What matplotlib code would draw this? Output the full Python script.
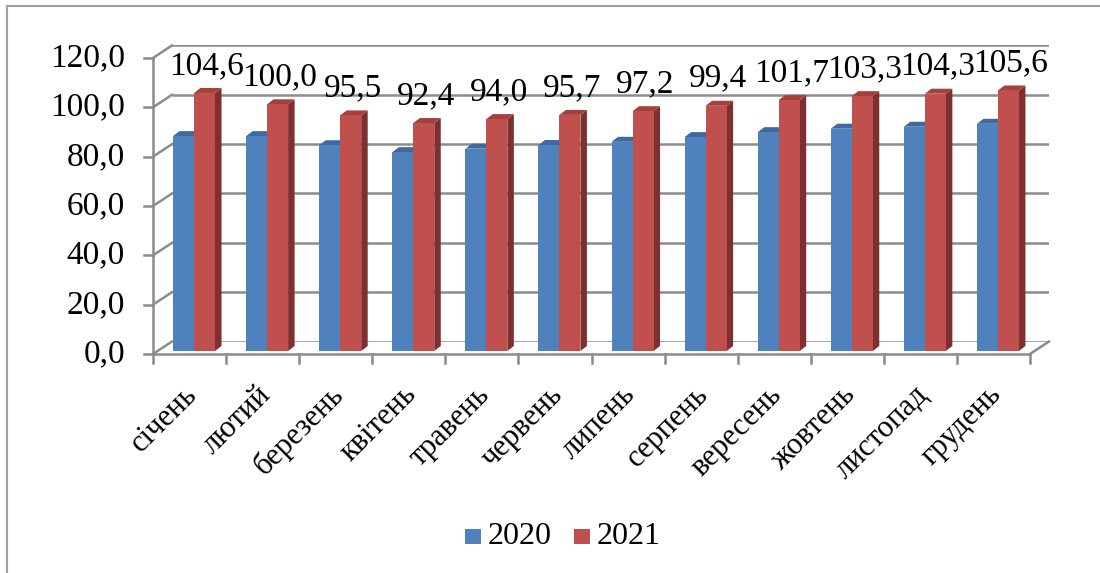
import matplotlib
matplotlib.use("Agg")
import matplotlib.pyplot as plt
from matplotlib.patches import Polygon, Rectangle
from matplotlib.lines import Line2D

plt.rcParams['font.family'] = ['Liberation Serif', 'DejaVu Serif']

months = ['січень', 'лютий', 'березень', 'квітень', 'травень', 'червень',
          'липень', 'серпень', 'вересень', 'жовтень', 'листопад', 'грудень']
values_2020 = [87.1, 87.1, 83.4, 80.6, 82.0, 83.5, 84.8, 86.7, 88.7, 90.1, 90.9, 92.1]
values_2021 = [104.6, 100.0, 95.5, 92.4, 94.0, 95.7, 97.2, 99.4, 101.7, 103.3, 104.3, 105.6]
series_names = ['2020', '2021']
y_ticks = [0, 20, 40, 60, 80, 100, 120]
y_tick_labels = ['0,0', '20,0', '40,0', '60,0', '80,0', '100,0', '120,0']

W, H = 1100, 573
fig = plt.figure(figsize=(W / 100, H / 100), dpi=100)

blue, red = '#4F81BD', '#C0504D'
blue_top, red_top = '#3E6AA0', '#A5403D'
blue_side, red_side = '#385D8A', '#7F2F2F'
grid_col = '#8C8C8C'

n = len(months)
xmin, xmax = -0.5, n - 0.5
ymax = 120.0
scale = 2.467          # pixels per unit
plot_w = 877           # pixels for 12 categories


def make_ax(left_px, zero_px_from_top, z):
    ax = fig.add_axes([left_px / W, (H - zero_px_from_top) / H,
                       plot_w / W, ymax * scale / H])
    ax.set_xlim(xmin, xmax)
    ax.set_ylim(0, ymax)
    ax.axis('off')
    ax.set_zorder(z)
    ax.patch.set_alpha(0)
    return ax


ax_back = make_ax(172, 341.5, 1)
ax_front = make_ax(153, 354, 2)
ax_bar = make_ax(157.5, 351, 3)

# back wall gridlines
for v in y_ticks:
    ax_back.plot([xmin, xmax], [v, v], color=grid_col, lw=1.8, solid_capstyle='butt')

fig.canvas.draw()
to_px = lambda ax, x, y: ax.transData.transform((x, y))

lines = []
for v in y_ticks:
    p0 = to_px(ax_front, xmin, v)
    p1 = to_px(ax_back, xmin, v)
    lines.append(([p0[0], p1[0]], [p0[1], p1[1]]))
p0 = to_px(ax_front, xmax, 0)
p1 = to_px(ax_back, xmax, 0)
lines.append(([p0[0], p1[0]], [p0[1], p1[1]]))
p0 = to_px(ax_front, xmin, 0)
p1 = to_px(ax_front, xmin, ymax)
lines.append(([p0[0], p1[0]], [p0[1], p1[1]]))
p1 = to_px(ax_front, xmax, 0)
lines.append(([p0[0], p1[0]], [p0[1], p1[1]]))
for v in y_ticks:
    p = to_px(ax_front, xmin, v)
    lines.append(([p[0] - 9, p[0]], [p[1], p[1]]))
for k in range(n + 1):
    p = to_px(ax_front, xmin + k, 0)
    lines.append(([p[0], p[0]], [p[1], p[1] - 9]))

for xs, ys in lines:
    fig.add_artist(Line2D(xs, ys, transform=None, color=grid_col, lw=1.8, zorder=1.5))

# y tick labels
for v, lab in zip(y_ticks, y_tick_labels):
    p = to_px(ax_front, xmin, v)
    fig.text((p[0] - 28) / W, p[1] / H, lab, ha='right', va='center', fontsize=24)

# x tick labels
for i, m in enumerate(months):
    p = to_px(ax_front, i, 0)
    fig.text((p[0] - 7) / W, (p[1] - 26) / H, m, ha='right', va='top',
             rotation=45, rotation_mode='anchor', fontsize=22)

# bars with 3D effect
bw = 0.287
ddx = 6.5 / (plot_w / n)
ddy = 5.0 / scale

for i in range(n):
    for j, (vals, fc, tc, sc) in enumerate([(values_2020, blue, blue_top, blue_side),
                                             (values_2021, red, red_top, red_side)]):
        v = vals[i]
        x0 = i - bw + j * bw
        x1 = x0 + bw
        ax_bar.add_patch(Polygon([(x1, 0), (x1 + ddx, ddy), (x1 + ddx, v + ddy), (x1, v)],
                                 closed=True, facecolor=sc, edgecolor='none', zorder=2 + j * 3))
        ax_bar.add_patch(Polygon([(x0, v), (x0 + ddx, v + ddy), (x1 + ddx, v + ddy), (x1, v)],
                                 closed=True, facecolor=tc, edgecolor='none', zorder=2 + j * 3))
        ax_bar.add_patch(Rectangle((x0, 0), bw, v, facecolor=fc, edgecolor='none',
                                   zorder=3 + j * 3))
    ax_bar.annotate(f'{values_2021[i]:.1f}'.replace('.', ','),
                    xy=(i + bw / 2, values_2021[i]), xytext=(2, 19),
                    textcoords='offset pixels', ha='center', va='baseline',
                    fontsize=24, annotation_clip=False, zorder=10)

# legend
for k, (name, col) in enumerate(zip(series_names, [blue, red])):
    x = 465 + k * 109
    fig.add_artist(Rectangle((x / W, (H - 544) / H), 16 / W, 15 / H,
                             transform=fig.transFigure, facecolor=col, edgecolor='none'))
    fig.text((x + 23) / W, (H - 537) / H, name, ha='left', va='center', fontsize=23)

# chart border (top and left)
fig.add_artist(Line2D([7 / W, 1.0], [(H - 6) / H, (H - 6) / H], transform=fig.transFigure,
                      color='#A0A0A0', lw=1.5))
fig.add_artist(Line2D([7 / W, 7 / W], [0, (H - 6) / H], transform=fig.transFigure,
                      color='#A0A0A0', lw=1.5))

fig.savefig('out.png', dpi=100)
